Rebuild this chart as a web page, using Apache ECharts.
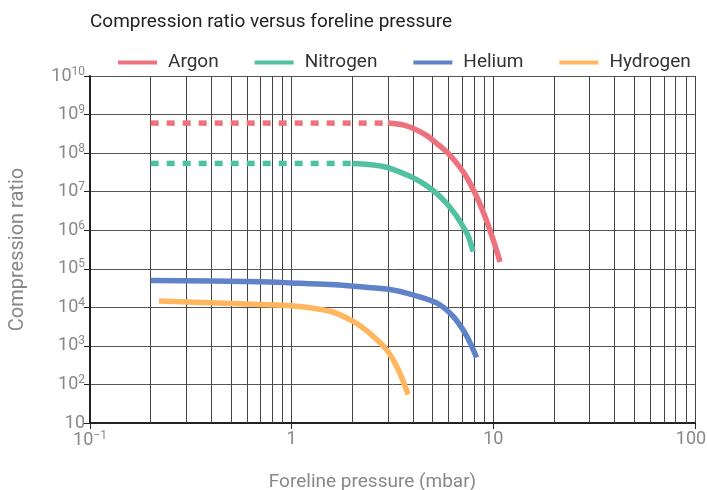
<!DOCTYPE html>
<html>
<head>
<meta charset="utf-8">
<script src="https://cdn.jsdelivr.net/npm/echarts@6/dist/echarts.min.js"></script>
<style>html,body{margin:0;padding:0;background:#fff}#c{width:707px;height:490px}</style>
</head>
<body>
<div id="c"></div>
<script>
const titleText = 'Compression ratio versus foreline pressure';
const xName = 'Foreline pressure (mbar)';
const yName = 'Compression ratio';
const seriesNames = ['Argon', 'Nitrogen', 'Helium', 'Hydrogen'];
const colors = ['#ee727e', '#52c1a2', '#6082c8', '#ffb65e'];

const argonDashed = [[0.2, 6e8], [3, 6e8]];
const argonSolid = [[3, 6e8], [3.6, 5.3e8], [4.17, 4e8], [4.7, 2.8e8], [5.23, 1.8e8], [5.9, 1.05e8], [6.58, 5.5e7], [7.4, 2.3e7], [8.26, 7.5e6], [9.0, 2.6e6], [9.62, 1e6], [10.2, 4e5], [10.8, 1.5e5]];
const nitrogenDashed = [[0.2, 5.4e7], [2, 5.4e7]];
const nitrogenSolid = [[2, 5.4e7], [2.85, 4.5e7], [3.86, 2.5e7], [4.6, 1.5e7], [5.23, 9e6], [5.9, 4.8e6], [6.58, 2.3e6], [7.1, 1.2e6], [7.52, 6.9e5], [7.94, 2.8e5]];
const helium = [[0.2, 5e4], [0.7, 4.6e4], [1, 4.3e4], [1.55, 3.9e4], [2.2, 3.4e4], [3.07, 2.9e4], [4.0, 2.1e4], [5.23, 1.3e4], [6.32, 5.8e3], [7.38, 1.8e3], [8.26, 5e2]];
const hydrogen = [[0.22, 1.46e4], [0.7, 1.19e4], [1, 1.1e4], [1.55, 7.9e3], [2.02, 4.3e3], [2.44, 2.1e3], [2.96, 7.9e2], [3.38, 2.4e2], [3.78, 55]];

const xMinorGrid = [0.2, 0.3, 0.4, 0.5, 0.6, 0.7, 0.8, 0.9, 2, 3, 4, 5, 6, 7, 8, 9, 20, 30, 40, 50, 60, 70, 80, 90];

const chart = echarts.init(document.getElementById('c'));
const FONT = 'Roboto';
const sup = { fontSize: 12, fontFamily: FONT, color: '#888', padding: [0, 0, 9, 0] };
const lastLab = { fontSize: 18, fontFamily: FONT, color: '#888', padding: [0, 8, 0, 0] };

function solid(name, data, color) {
  return { name, type: 'line', data, smooth: 0.3, showSymbol: false, symbol: 'none',
    lineStyle: { color, width: 5.5, cap: 'butt' }, itemStyle: { color }, z: 5 };
}
function dashed(name, data, color) {
  return { name, type: 'line', data, showSymbol: false, symbol: 'none',
    lineStyle: { color, width: 5.5, type: [8, 8], cap: 'butt' }, itemStyle: { color }, z: 5 };
}

chart.setOption({
  animation: false,
  textStyle: { fontFamily: FONT },
  title: { text: titleText, left: 85, top: 8, textStyle: { fontSize: 19, fontWeight: 'normal', color: '#222', fontFamily: FONT } },
  legend: {
    data: seriesNames,
    top: 48, left: 113, itemGap: 36, itemWidth: 39, itemHeight: 4, icon: 'rect',
    textStyle: { fontSize: 19, color: '#333', fontFamily: FONT, padding: [0, 0, 0, 6] }
  },
  grid: { left: 90, right: 12, top: 76, bottom: 67, containLabel: false, outerBoundsMode: 'none' },
  xAxis: {
    type: 'log', logBase: 10, min: 0.1, max: 100, interval: 1,
    name: xName, nameLocation: 'middle', nameGap: 50,
    nameTextStyle: { fontSize: 19, color: '#888', fontFamily: FONT, padding: [0, 40, 0, 0] },
    axisLine: { lineStyle: { color: '#222', width: 2 } },
    axisTick: { show: true, length: 6, lineStyle: { color: '#222', width: 1 } },
    splitLine: { show: true, lineStyle: { color: '#444', width: 1 } },
    axisLabel: {
      fontSize: 18, color: '#888', margin: 7, fontFamily: FONT,
      formatter: v => {
        const e = Math.round(Math.log10(v));
        if (e === -1) return '10{s|−1}';
        if (e === 2) return '{r|100}';
        return String(Math.pow(10, e));
      },
      rich: { s: sup, r: lastLab }
    }
  },
  yAxis: {
    type: 'log', logBase: 10, min: 10, max: 1e10, interval: 1,
    name: yName, nameLocation: 'middle', nameGap: 62, nameRotate: 90,
    nameTextStyle: { fontSize: 20, color: '#888', fontFamily: FONT },
    axisLine: { show: true, lineStyle: { color: '#222', width: 2 } },
    axisTick: { show: true, length: 6, lineStyle: { color: '#222', width: 1 } },
    splitLine: { show: true, lineStyle: { color: '#555', width: 1 } },
    axisLabel: {
      fontSize: 18, color: '#888', margin: 5, fontFamily: FONT,
      formatter: v => { const e = Math.round(Math.log10(v)); if (e === 1) return '10'; return '10{s|' + e + '}'; },
      rich: { s: sup }
    }
  },
  series: [
    {
      name: 'grid', type: 'line', data: [], silent: true,
      markLine: { silent: true, symbol: 'none', label: { show: false },
        lineStyle: { color: '#444', width: 1, type: 'solid' },
        data: xMinorGrid.map(x => ({ xAxis: x })) }, z: 1
    },
    dashed('Argon dashed', argonDashed, colors[0]),
    solid('Argon', argonSolid, colors[0]),
    dashed('Nitrogen dashed', nitrogenDashed, colors[1]),
    solid('Nitrogen', nitrogenSolid, colors[1]),
    solid('Helium', helium, colors[2]),
    solid('Hydrogen', hydrogen, colors[3])
  ]
});
</script>
</body>
</html>
